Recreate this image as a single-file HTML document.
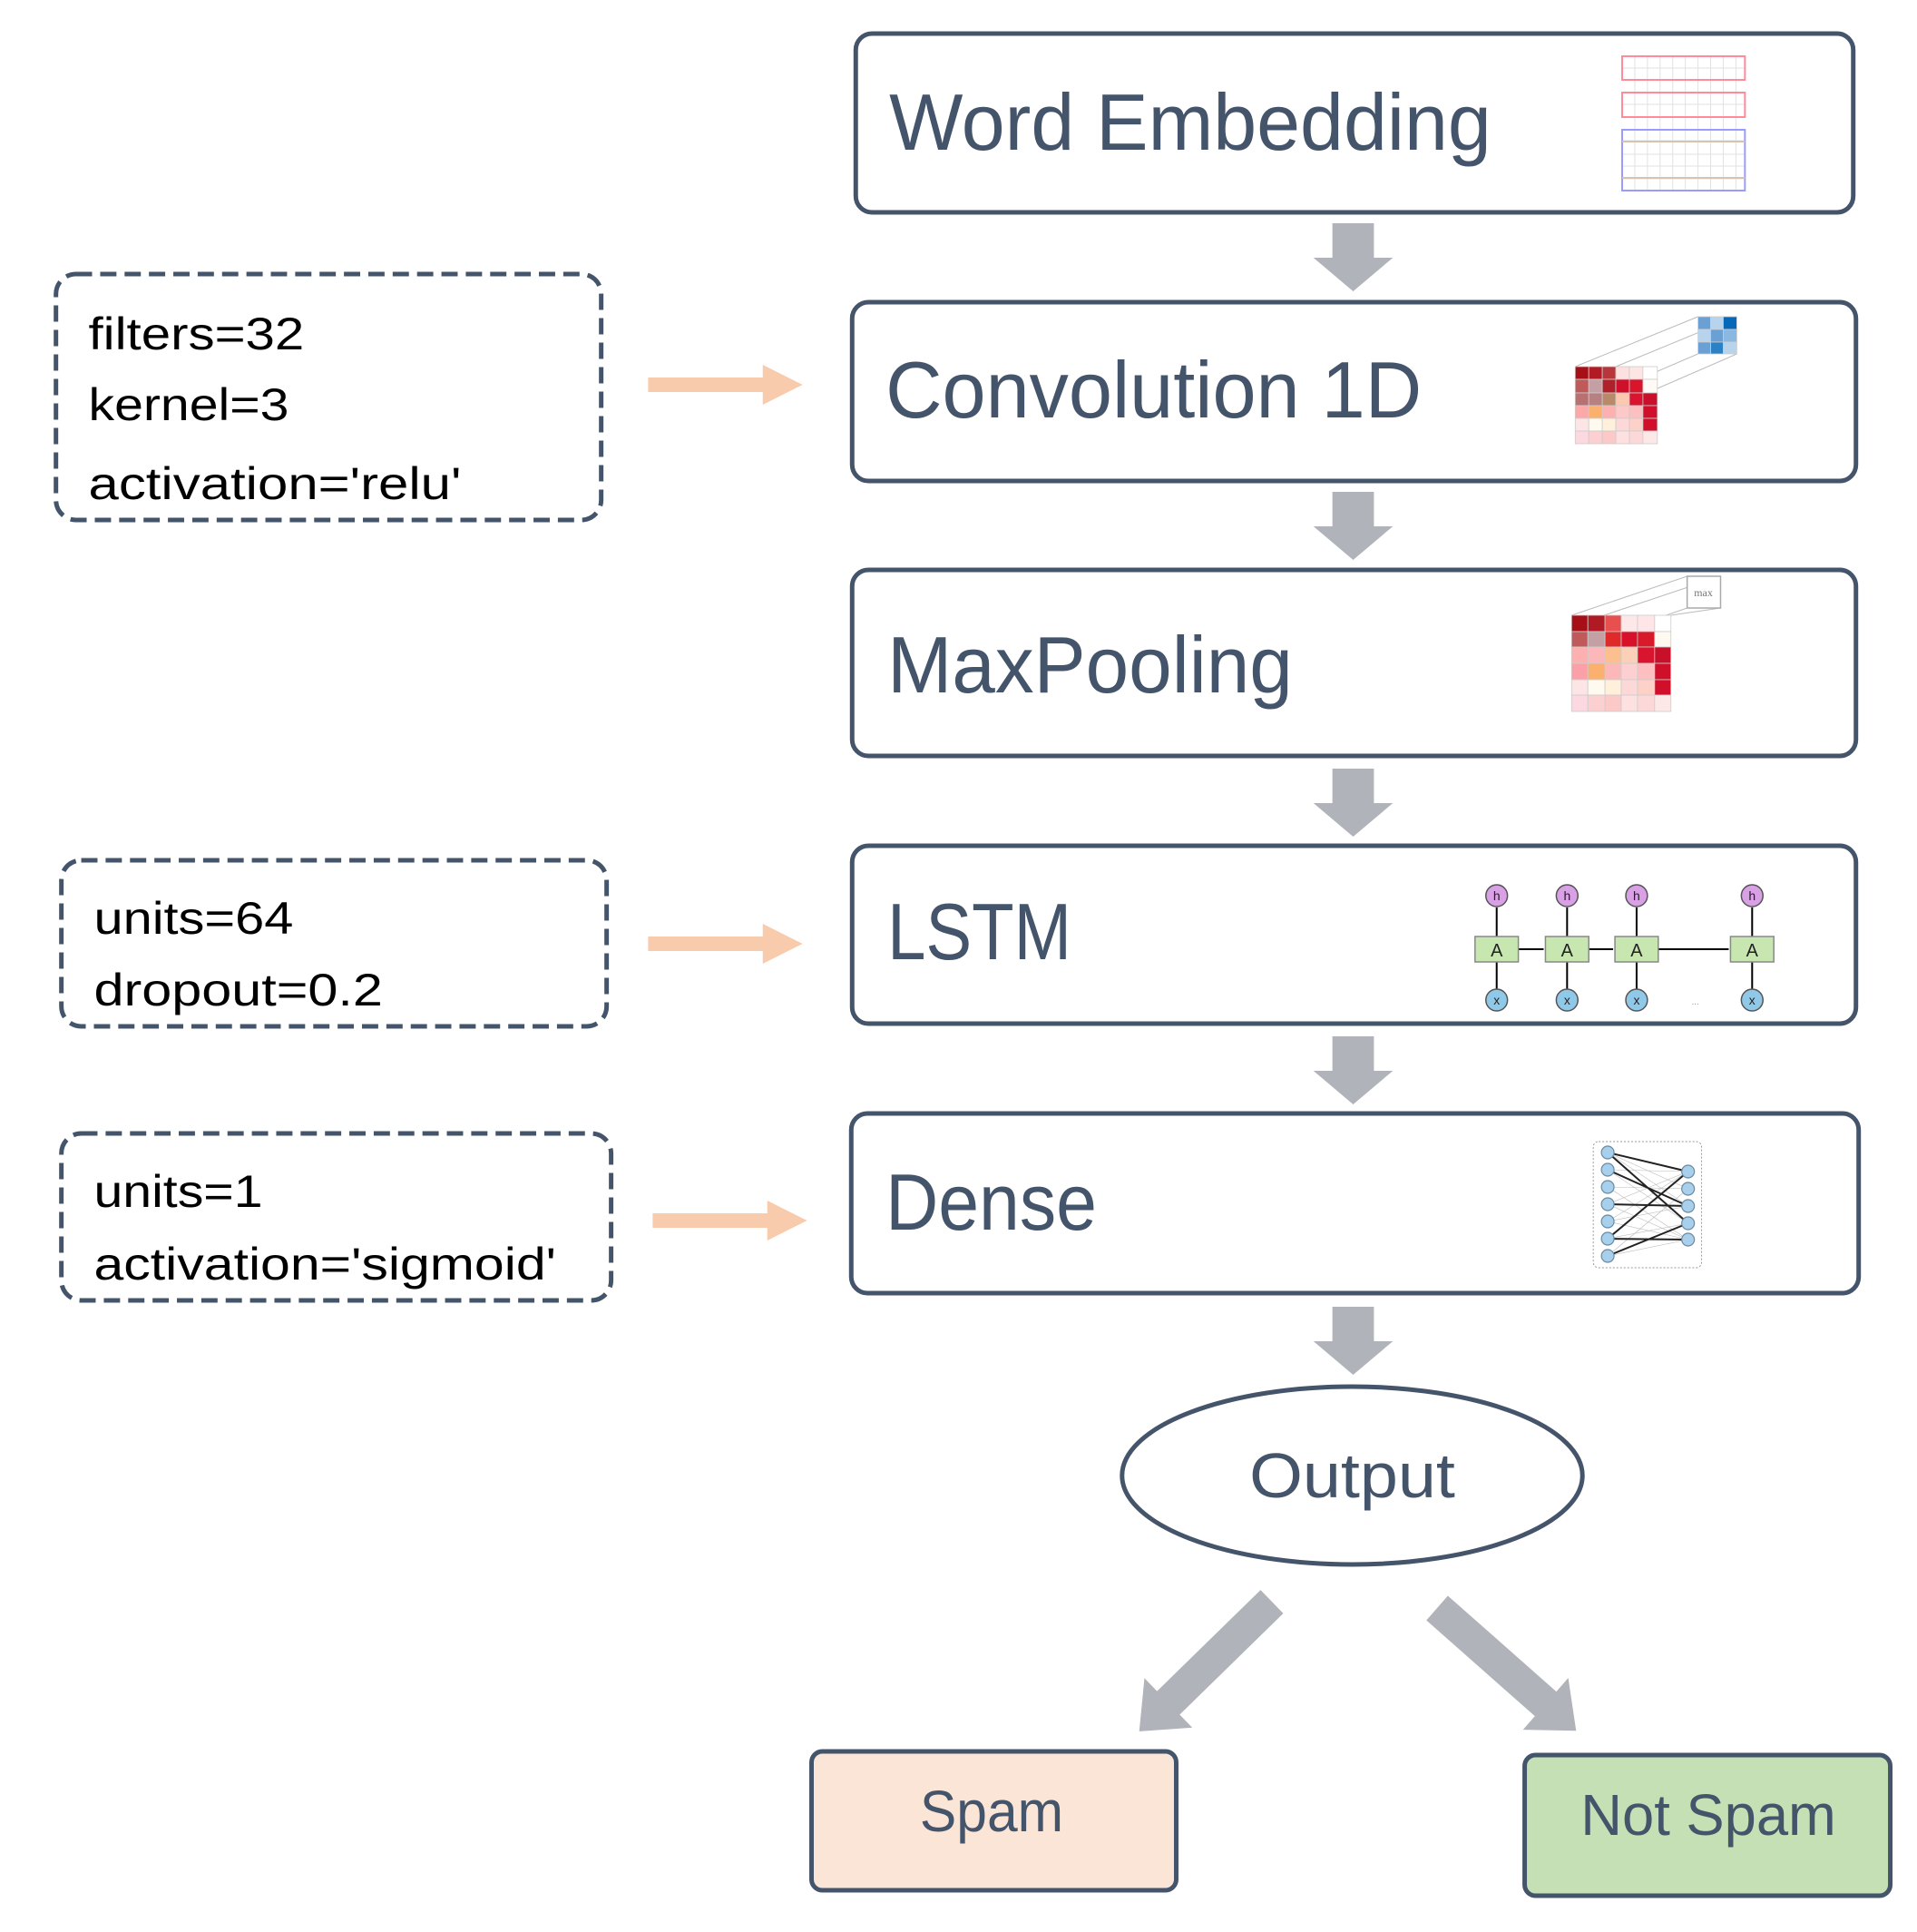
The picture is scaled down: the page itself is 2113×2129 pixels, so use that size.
<!DOCTYPE html>
<html><head><meta charset="utf-8"><style>
html,body{margin:0;padding:0;background:#fff}
svg{display:block}
.t{font-family:"Liberation Sans",sans-serif;fill:#44546a}
.p{font-family:"Liberation Sans",sans-serif;fill:#000;font-size:50px}
</style></head><body>
<svg width="2113" height="2129" viewBox="0 0 2113 2129" xmlns="http://www.w3.org/2000/svg">
<defs>
<g id="dn"><polygon points="-23,0 23,0 23,38 44,38 0,75 -44,38 -23,38" fill="#b0b3b9"/></g>
<g id="diag"><polygon points="0,-18 160,-18 160,-38 205,0 160,38 160,18 0,18" fill="#b0b3b9"/></g>
<g id="oa"><polygon points="0,-8 127,-8 127,-22 171,0 127,22 127,8 0,8" fill="#f8cbad"/></g>
</defs>
<g transform="scale(0.995,1)">
<g fill="#fff" stroke="#44546a" stroke-width="5">
<rect x="948" y="37" width="1105" height="197" rx="18"/>
<rect x="944" y="333" width="1112" height="197" rx="18"/>
<rect x="944" y="628" width="1112" height="205" rx="18"/>
<rect x="944" y="932" width="1112" height="196" rx="18"/>
<rect x="943" y="1227" width="1116" height="198" rx="18"/>
<ellipse cx="1498" cy="1626" rx="255" ry="98"/>
</g>
<rect x="899" y="1930" width="404" height="153" rx="12" fill="#fbe5d6" stroke="#44546a" stroke-width="5"/>
<rect x="1689" y="1934" width="405" height="155" rx="12" fill="#c5e0b4" stroke="#44546a" stroke-width="5"/>
<g fill="none" stroke="#44546a" stroke-width="5" stroke-dasharray="18,9">
<rect x="62" y="302" width="604" height="271" rx="22"/>
<rect x="68" y="948" width="604" height="183" rx="22"/>
<rect x="68" y="1249" width="609" height="184" rx="22"/>
</g>
<text class="t" x="985" y="165" font-size="88" textLength="667" lengthAdjust="spacingAndGlyphs">Word Embedding</text>
<text class="t" x="981" y="460" font-size="88" textLength="594" lengthAdjust="spacingAndGlyphs">Convolution 1D</text>
<text class="t" x="983" y="763" font-size="88" textLength="449" lengthAdjust="spacingAndGlyphs">MaxPooling</text>
<text class="t" x="983" y="1057" font-size="88" textLength="204" lengthAdjust="spacingAndGlyphs">LSTM</text>
<text class="t" x="981" y="1355" font-size="88" textLength="234" lengthAdjust="spacingAndGlyphs">Dense</text>
<text class="t" x="1384" y="1650" font-size="70" textLength="228" lengthAdjust="spacingAndGlyphs">Output</text>
<text class="t" x="1019" y="2018" font-size="64" textLength="159" lengthAdjust="spacingAndGlyphs">Spam</text>
<text class="t" x="1751" y="2022" font-size="64" textLength="283" lengthAdjust="spacingAndGlyphs">Not Spam</text>
<text class="p" x="98" y="385" textLength="239" lengthAdjust="spacingAndGlyphs">filters=32</text>
<text class="p" x="98" y="463" textLength="222" lengthAdjust="spacingAndGlyphs">kernel=3</text>
<text class="p" x="98" y="550" textLength="413" lengthAdjust="spacingAndGlyphs">activation='relu'</text>
<text class="p" x="104" y="1029" textLength="221" lengthAdjust="spacingAndGlyphs">units=64</text>
<text class="p" x="104" y="1108" textLength="320" lengthAdjust="spacingAndGlyphs">dropout=0.2</text>
<text class="p" x="104" y="1330" textLength="187" lengthAdjust="spacingAndGlyphs">units=1</text>
<text class="p" x="104" y="1410" textLength="512" lengthAdjust="spacingAndGlyphs">activation='sigmoid'</text>
<use href="#dn" x="1499" y="246"/>
<use href="#dn" x="1499" y="542"/>
<use href="#dn" x="1499" y="847"/>
<use href="#dn" x="1499" y="1142"/>
<use href="#dn" x="1499" y="1440"/>
<g transform="translate(1409,1765) rotate(135.8)"><use href="#diag"/></g>
<g transform="translate(1592,1772) rotate(41.3)"><use href="#diag"/></g>
<g transform="translate(718,424)"><use href="#oa"/></g>
<g transform="translate(718,1040)"><use href="#oa"/></g>
<g transform="translate(723,1345)"><use href="#oa"/></g>
<g fill="none" stroke-width="1">
<g stroke="#dfe3e3">
<path d="M1811 62V210M1825 62V210M1839 62V210M1853 62V210M1867 62V210M1881 62V210M1895 62V210M1909 62V210M1923 62V210"/>
<path d="M1797 75H1933M1797 115H1933M1797 155H1933M1797 170H1933M1797 183H1933M1797 197H1933"/>
</g>
<rect x="1797" y="62" width="136" height="26" stroke="#ff8a99" stroke-width="2"/>
<rect x="1797" y="102" width="136" height="27" stroke="#ff8a99" stroke-width="2"/>
<rect x="1797" y="143" width="136" height="67" stroke="#9a9aff" stroke-width="2"/>
<path d="M1797 156H1933M1797 196H1933" stroke="#d8c3b0" stroke-width="2"/>
</g>
<g stroke="#bbb" stroke-width="1" fill="none"><path d="M1745 404L1881 349M1790 404L1924 349M1745 448L1881 390M1790 448L1924 390"/></g>
<g stroke="#ccc" stroke-width="0.8">
<rect x="1745" y="404" width="15" height="14" fill="#a50f15"/><rect x="1760" y="404" width="15" height="14" fill="#b31b24"/><rect x="1775" y="404" width="15" height="14" fill="#b8363a"/><rect x="1790" y="404" width="15" height="14" fill="#fde0e0"/><rect x="1805" y="404" width="15" height="14" fill="#fde5e5"/><rect x="1820" y="404" width="16" height="14" fill="#fff"/>
<rect x="1745" y="418" width="15" height="15" fill="#c05a5a"/><rect x="1760" y="418" width="15" height="15" fill="#c4a0a5"/><rect x="1775" y="418" width="15" height="15" fill="#b0202a"/><rect x="1790" y="418" width="15" height="15" fill="#d0102a"/><rect x="1805" y="418" width="15" height="15" fill="#d8152a"/><rect x="1820" y="418" width="16" height="15" fill="#fffaf5"/>
<rect x="1745" y="433" width="15" height="14" fill="#b87070"/><rect x="1760" y="433" width="15" height="14" fill="#b88080"/><rect x="1775" y="433" width="15" height="14" fill="#b88a6a"/><rect x="1790" y="433" width="15" height="14" fill="#fcc8b0"/><rect x="1805" y="433" width="15" height="14" fill="#d8142e"/><rect x="1820" y="433" width="16" height="14" fill="#c8102a"/>
<rect x="1745" y="447" width="15" height="14" fill="#fca8a8"/><rect x="1760" y="447" width="15" height="14" fill="#fcb070"/><rect x="1775" y="447" width="15" height="14" fill="#fcb0b0"/><rect x="1790" y="447" width="15" height="14" fill="#fcc8c8"/><rect x="1805" y="447" width="15" height="14" fill="#fcc0c0"/><rect x="1820" y="447" width="16" height="14" fill="#d0102a"/>
<rect x="1745" y="461" width="15" height="14" fill="#fde5e5"/><rect x="1760" y="461" width="15" height="14" fill="#fffaf0"/><rect x="1775" y="461" width="15" height="14" fill="#fff0dc"/><rect x="1790" y="461" width="15" height="14" fill="#fdd8d8"/><rect x="1805" y="461" width="15" height="14" fill="#fdd0c8"/><rect x="1820" y="461" width="16" height="14" fill="#d0102a"/>
<rect x="1745" y="475" width="15" height="14" fill="#fcd8e0"/><rect x="1760" y="475" width="15" height="14" fill="#fcd0d0"/><rect x="1775" y="475" width="15" height="14" fill="#fcc8c8"/><rect x="1790" y="475" width="15" height="14" fill="#fde0e0"/><rect x="1805" y="475" width="15" height="14" fill="#fdd8d8"/><rect x="1820" y="475" width="16" height="14" fill="#fde8e8"/>
<rect x="1881" y="349" width="14" height="14" fill="#6aa0d4"/><rect x="1895" y="349" width="14" height="14" fill="#b8d4ec"/><rect x="1909" y="349" width="15" height="14" fill="#0868b8"/>
<rect x="1881" y="363" width="14" height="14" fill="#b8d4ec"/><rect x="1895" y="363" width="14" height="14" fill="#6aa0d4"/><rect x="1909" y="363" width="15" height="14" fill="#8ab8e0"/>
<rect x="1881" y="377" width="14" height="13" fill="#6aa0d4"/><rect x="1895" y="377" width="14" height="13" fill="#2c80c4"/><rect x="1909" y="377" width="15" height="13" fill="#b8d4ec"/>
</g>
<g stroke="#bbb" stroke-width="1" fill="none"><path d="M1741 678L1869 635M1777 678L1906 635M1741 714L1869 670M1851 678L1906 670"/></g>
<rect x="1869" y="635" width="37" height="35" fill="#fff" stroke="#aaa" stroke-width="1.5"/>
<text x="1887" y="657" font-family="Liberation Serif,serif" font-size="12" fill="#777" text-anchor="middle">max</text>
<g stroke="#ccc" stroke-width="0.8">
<rect x="1741" y="678" width="18" height="18" fill="#a50f15"/><rect x="1759" y="678" width="19" height="18" fill="#b01a25"/><rect x="1778" y="678" width="18" height="18" fill="#e85050"/><rect x="1796" y="678" width="18" height="18" fill="#fde8e8"/><rect x="1814" y="678" width="19" height="18" fill="#fde5e8"/><rect x="1833" y="678" width="18" height="18" fill="#fff"/>
<rect x="1741" y="696" width="18" height="17" fill="#c05a5a"/><rect x="1759" y="696" width="19" height="17" fill="#c4a0a5"/><rect x="1778" y="696" width="18" height="17" fill="#e02a2a"/><rect x="1796" y="696" width="18" height="17" fill="#d8102a"/><rect x="1814" y="696" width="19" height="17" fill="#d81a2a"/><rect x="1833" y="696" width="18" height="17" fill="#fffaf0"/>
<rect x="1741" y="713" width="18" height="18" fill="#fcb0b0"/><rect x="1759" y="713" width="19" height="18" fill="#fcb8b8"/><rect x="1778" y="713" width="18" height="18" fill="#fcc090"/><rect x="1796" y="713" width="18" height="18" fill="#fcd0b8"/><rect x="1814" y="713" width="19" height="18" fill="#d8142e"/><rect x="1833" y="713" width="18" height="18" fill="#c8102a"/>
<rect x="1741" y="731" width="18" height="18" fill="#fca0a8"/><rect x="1759" y="731" width="19" height="18" fill="#fcb070"/><rect x="1778" y="731" width="18" height="18" fill="#fcb8b8"/><rect x="1796" y="731" width="18" height="18" fill="#fcd0d0"/><rect x="1814" y="731" width="19" height="18" fill="#fcc0c0"/><rect x="1833" y="731" width="18" height="18" fill="#d0102a"/>
<rect x="1741" y="749" width="18" height="17" fill="#fde5e5"/><rect x="1759" y="749" width="19" height="17" fill="#fffaf0"/><rect x="1778" y="749" width="18" height="17" fill="#fff0dc"/><rect x="1796" y="749" width="18" height="17" fill="#fdd8d8"/><rect x="1814" y="749" width="19" height="17" fill="#fdd0c8"/><rect x="1833" y="749" width="18" height="17" fill="#d0102a"/>
<rect x="1741" y="766" width="18" height="18" fill="#fcd8e0"/><rect x="1759" y="766" width="19" height="18" fill="#fcd0d0"/><rect x="1778" y="766" width="18" height="18" fill="#fcc8c8"/><rect x="1796" y="766" width="18" height="18" fill="#fde0e0"/><rect x="1814" y="766" width="19" height="18" fill="#fdd8d8"/><rect x="1833" y="766" width="18" height="18" fill="#fde8e8"/>
</g>
<g font-family="Liberation Sans,sans-serif" text-anchor="middle">
<g stroke="#000" stroke-width="2"><path d="M1658 1032V1000M1736 1032V1000M1813 1032V1000M1941 1032V1000M1658 1090V1060M1736 1090V1060M1813 1090V1060M1941 1090V1060M1682 1046H1710M1760 1046H1787M1837 1046H1915"/></g>
<g fill="#c8e6b0" stroke="#888" stroke-width="1.5">
<rect x="1634" y="1032" width="48" height="28"/><rect x="1712" y="1032" width="48" height="28"/><rect x="1789" y="1032" width="48" height="28"/><rect x="1917" y="1032" width="48" height="28"/></g>
<g font-size="20" fill="#222"><text x="1658" y="1054">A</text><text x="1736" y="1054">A</text><text x="1813" y="1054">A</text><text x="1941" y="1054">A</text></g>
<g fill="#d9a0e6" stroke="#555" stroke-width="1.5"><circle cx="1658" cy="987" r="12"/><circle cx="1736" cy="987" r="12"/><circle cx="1813" cy="987" r="12"/><circle cx="1941" cy="987" r="12"/></g>
<g fill="#90c8e8" stroke="#555" stroke-width="1.5"><circle cx="1658" cy="1102" r="12"/><circle cx="1736" cy="1102" r="12"/><circle cx="1813" cy="1102" r="12"/><circle cx="1941" cy="1102" r="12"/></g>
<g font-size="14" fill="#222"><text x="1658" y="992">h</text><text x="1736" y="992">h</text><text x="1813" y="992">h</text><text x="1941" y="992">h</text><text x="1658" y="1107">x</text><text x="1736" y="1107">x</text><text x="1813" y="1107">x</text><text x="1941" y="1107">x</text><text x="1878" y="1107" fill="#999" font-size="10">...</text></g>
</g>
<rect x="1765" y="1258" width="120" height="139" rx="6" fill="none" stroke="#999" stroke-width="1" stroke-dasharray="2,2"/>
<g stroke="#bbb" stroke-width="0.6">
<path d="M1781 1270L1870 1291M1781 1270L1870 1310M1781 1270L1870 1329M1781 1289L1870 1291M1781 1289L1870 1348M1781 1308L1870 1366M1781 1308L1870 1310M1781 1327L1870 1291M1781 1327L1870 1366M1781 1346L1870 1329M1781 1346L1870 1291M1781 1365L1870 1348M1781 1384L1870 1366M1781 1384L1870 1310M1781 1289L1870 1329M1781 1346L1870 1366"/>
</g>
<g stroke="#222" stroke-width="2">
<path d="M1781 1270L1870 1291M1781 1270L1870 1348M1781 1289L1870 1329M1781 1365L1870 1291M1781 1384L1870 1348M1781 1365L1870 1366M1781 1327L1870 1329"/>
</g>
<g fill="#a8d0ec" stroke="#6a8aa0" stroke-width="1.2">
<circle cx="1781" cy="1270" r="7"/><circle cx="1781" cy="1289" r="7"/><circle cx="1781" cy="1308" r="7"/><circle cx="1781" cy="1327" r="7"/><circle cx="1781" cy="1346" r="7"/><circle cx="1781" cy="1365" r="7"/><circle cx="1781" cy="1384" r="7"/>
<circle cx="1870" cy="1291" r="7"/><circle cx="1870" cy="1310" r="7"/><circle cx="1870" cy="1329" r="7"/><circle cx="1870" cy="1348" r="7"/><circle cx="1870" cy="1366" r="7"/>
</g>
</g>
</svg>
</body></html>
